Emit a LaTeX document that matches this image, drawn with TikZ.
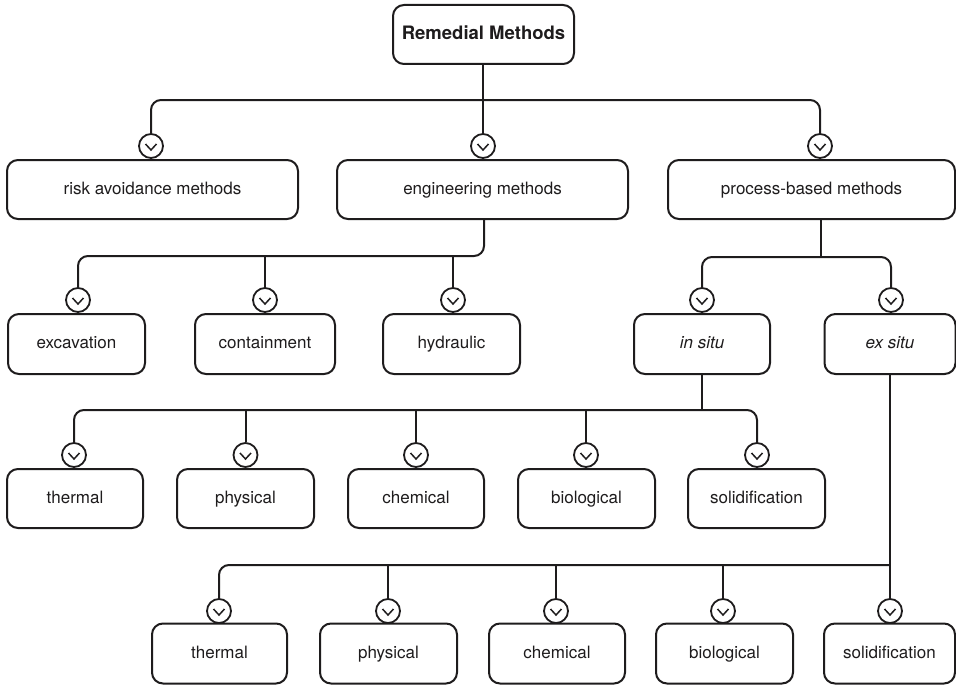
\documentclass[tikz,border=0pt]{standalone}
\usepackage{fontspec}
\setmainfont{TeX Gyre Heros}
\definecolor{ink}{HTML}{1E1C1D}
\begin{document}
\begin{tikzpicture}[x=1pt,y=-1pt,
  every node/.style={font=\fontsize{17}{20}\selectfont, text=ink},
  box/.style={draw=ink, line width=2pt, rounded corners=11pt, minimum height=59pt,
              inner sep=0pt, fill=white, text height=12.5pt, text depth=3.5pt},
  knob/.style={circle, draw=ink, line width=1.8pt, minimum size=24pt, inner sep=0pt, fill=white,
               path picture={\draw[ink, line width=1.5pt, line join=miter]
                 (path picture bounding box.center) ++(-5.5,-2) -- ++(5.5,6) -- ++(5.5,-6);}},
  link/.style={draw=ink, line width=2pt, rounded corners=10pt}]
\useasboundingbox (0,0) rectangle (956,685);

% ---- boxes ----
\node[box, minimum width=181pt, font=\fontsize{18.5}{22}\selectfont\bfseries,
      text height=13.5pt, text depth=4pt] (root) at (483.5,34.5) {Remedial Methods};

\node[box, minimum width=291pt] (risk) at (152.5,189.5) {risk avoidance methods};
\node[box, minimum width=291pt] (eng)  at (482.5,189.5) {engineering methods};
\node[box, minimum width=287pt] (proc) at (811.5,189.5) {process-based methods};

\node[box, minimum width=137pt, minimum height=60pt] (exc) at (76.5,344) {excavation};
\node[box, minimum width=140pt, minimum height=60pt] (con) at (265,344) {containment};
\node[box, minimum width=137pt, minimum height=60pt] (hyd) at (451.5,344) {hydraulic};
\node[box, minimum width=136pt, minimum height=60pt] (ins) at (702,344) {\itshape in situ};
\node[box, minimum width=131pt, minimum height=60pt] (exs) at (890,344) {\itshape ex situ};

\node[box, minimum width=136pt] (ith) at (75,498.5) {thermal};
\node[box, minimum width=137pt] (iph) at (245.5,498.5) {physical};
\node[box, minimum width=136pt] (ich) at (416,498.5) {chemical};
\node[box, minimum width=137pt] (ibi) at (586.5,498.5) {biological};
\node[box, minimum width=137pt] (iso) at (756.5,498.5) {solidification};

\node[box, minimum width=135pt, minimum height=60pt] (eth) at (219.5,653.5) {thermal};
\node[box, minimum width=137pt, minimum height=60pt] (eph) at (388.5,653.5) {physical};
\node[box, minimum width=136pt, minimum height=60pt] (ech) at (557,653.5) {chemical};
\node[box, minimum width=137pt, minimum height=60pt] (ebi) at (724.5,653.5) {biological};
\node[box, minimum width=131pt, minimum height=60pt] (eso) at (889.5,653.5) {solidification};

% ---- junction points of the branch lines ----
\coordinate (h1) at (483,100);
\coordinate (h2) at (484,256);
\coordinate (h3) at (821,257);
\coordinate (h4) at (702,410);
\coordinate (h5) at (890,565);

% ---- knobs above each child box ----
\node[knob] (k11) at (151,146) {};
\node[knob] (k12) at (483,146) {};
\node[knob] (k13) at (820,146) {};

\node[knob] (k21) at (78,300) {};
\node[knob] (k22) at (265,300) {};
\node[knob] (k23) at (453,300) {};
\node[knob] (k24) at (702,300) {};
\node[knob] (k25) at (891,300) {};

\node[knob] (k31) at (74,455) {};
\node[knob] (k32) at (245.5,455) {};
\node[knob] (k33) at (416,455) {};
\node[knob] (k34) at (586,455) {};
\node[knob] (k35) at (757,455) {};

\node[knob] (k41) at (219,611) {};
\node[knob] (k42) at (388,611) {};
\node[knob] (k43) at (556,611) {};
\node[knob] (k44) at (723,611) {};
\node[knob] (k45) at (890,611) {};

% ---- connectors ----
% top level
\draw[link] (k11.north) |- (h1) -| (k13.north);
\draw[link] (h1 |- root.south) -- (k12.north);

% engineering methods
\draw[link] (h2 |- eng.south) -- (h2) -| (k21.north);
\draw[link] (k22.north) -- (k22.north |- h2);
\draw[link] (k23.north) -- (k23.north |- h2);

% process-based methods
\draw[link] (h3 |- proc.south) -- (h3);
\draw[link] (k24.north) |- (h3) -| (k25.north);

% in situ
\draw[link] (ins.south) -- (h4);
\draw[link] (k31.north) |- (h4) -| (k35.north);
\draw[link] (k32.north) -- (k32.north |- h4);
\draw[link] (k33.north) -- (k33.north |- h4);
\draw[link] (k34.north) -- (k34.north |- h4);

% ex situ
\draw[link] (exs.south) -- (k45.north);
\draw[link] (k41.north) |- (h5);
\draw[link] (k42.north) -- (k42.north |- h5);
\draw[link] (k43.north) -- (k43.north |- h5);
\draw[link] (k44.north) -- (k44.north |- h5);
\end{tikzpicture}
\end{document}
